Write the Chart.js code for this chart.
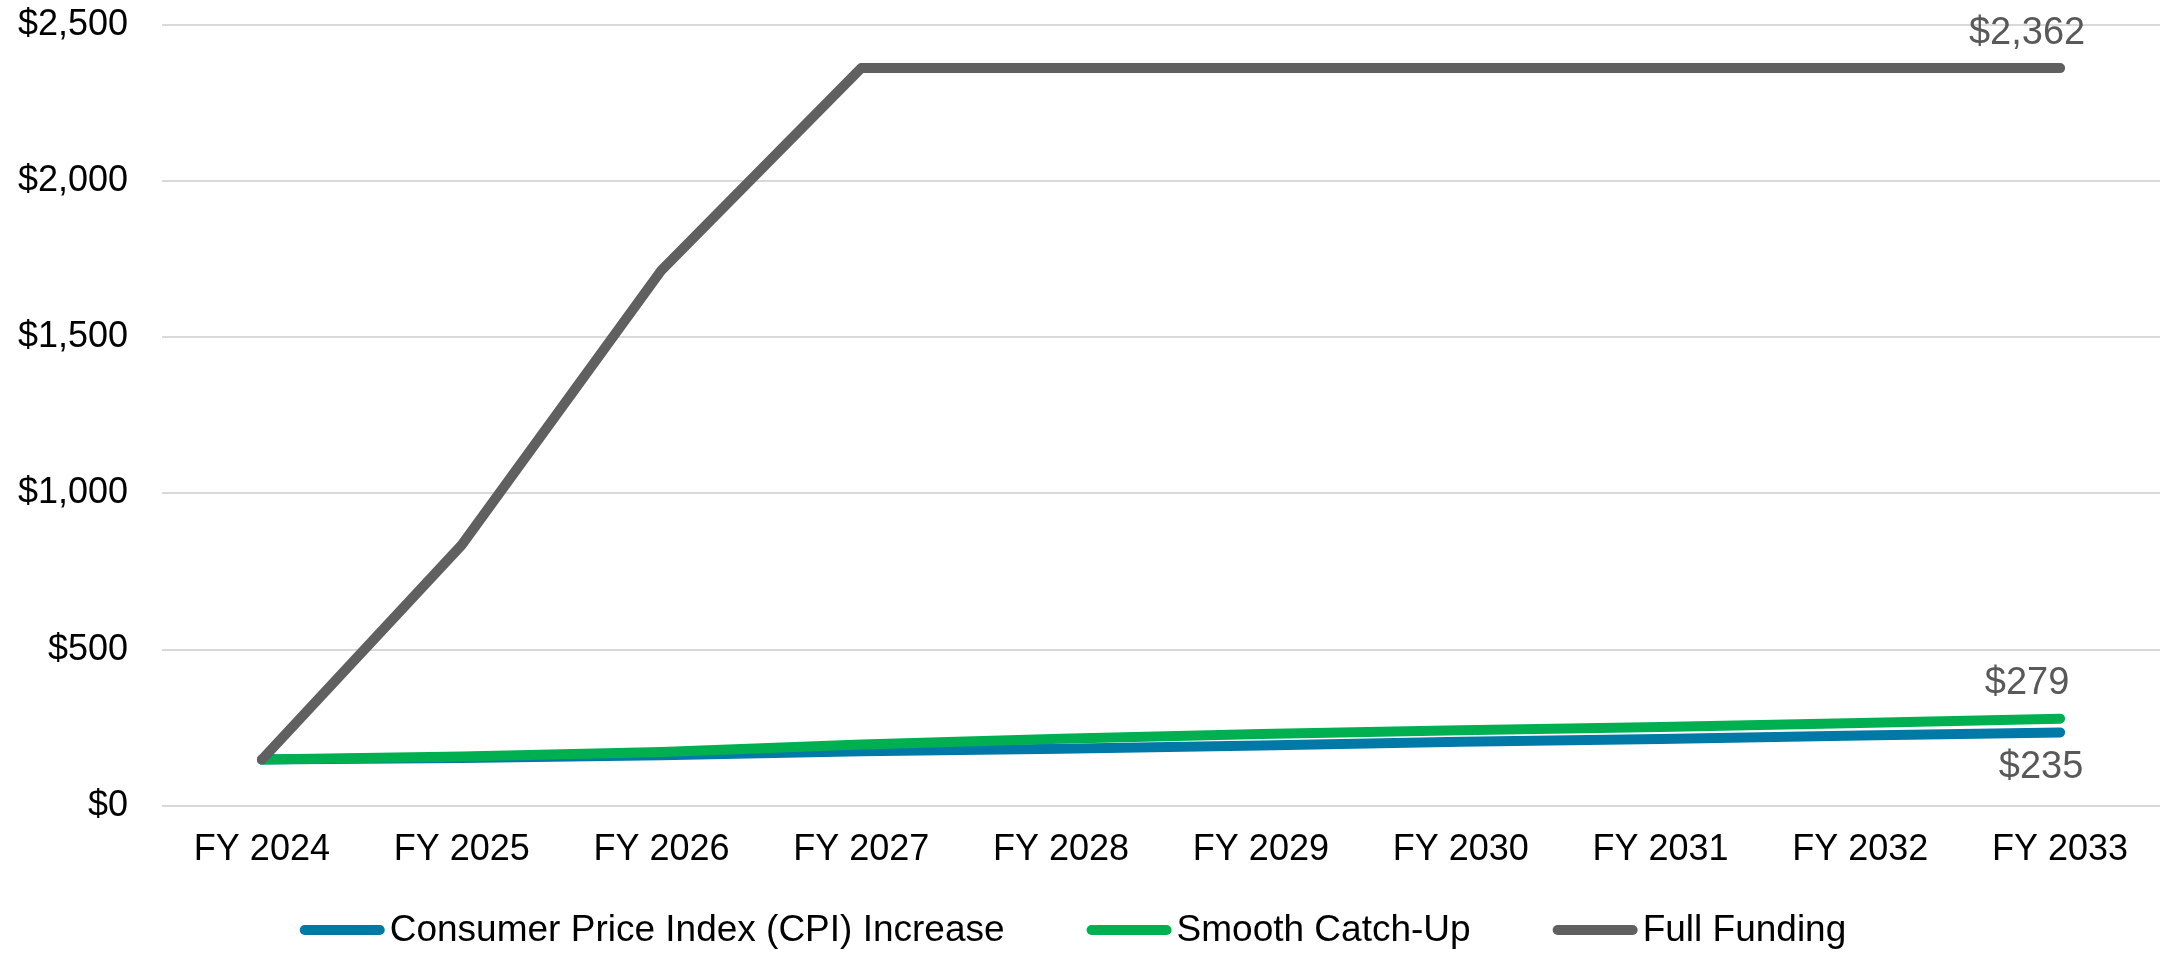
<!DOCTYPE html>
<html>
<head>
<meta charset="utf-8">
<script src="https://cdn.jsdelivr.net/npm/chart.js@4.4.1/dist/chart.umd.min.js"></script>
<style>
  html, body { margin: 0; padding: 0; background: #ffffff; }
  #wrap { width: 2160px; height: 953px; position: relative; }
</style>
</head>
<body>
<div id="wrap"><canvas id="c" width="2160" height="953"></canvas></div>
<script>
const categories = ["FY 2024", "FY 2025", "FY 2026", "FY 2027", "FY 2028", "FY 2029", "FY 2030", "FY 2031", "FY 2032", "FY 2033"];
const cpiIncrease = [148, 153, 162, 175, 183, 193, 205, 214, 225, 235];
const smoothCatchUp = [148, 158, 172, 196, 215, 230, 242, 252, 265, 279];
const fullFunding = [148, 835, 1715, 2362, 2362, 2362, 2362, 2362, 2362, 2362];
const yTicks = [0, 500, 1000, 1500, 2000, 2500];
const seriesNames = ["Consumer Price Index (CPI) Increase", "Smooth Catch-Up", "Full Funding"];

const FONT = "'Liberation Sans', Arial, sans-serif";

const endLabels = {
  id: 'endLabels',
  afterDatasetsDraw(chart) {
    const ctx = chart.ctx;
    const x = chart.scales.x, y = chart.scales.y;
    const last = categories.length - 1;
    const items = [
      { data: fullFunding, dx: -33, dy: -35 },
      { data: smoothCatchUp, dx: -33, dy: -35 },
      { data: cpiIncrease, dx: -19, dy: 35 }
    ];
    ctx.save();
    ctx.font = "38px " + FONT;
    ctx.fillStyle = "#595959";
    ctx.textAlign = "center";
    ctx.textBaseline = "middle";
    items.forEach(it => {
      const v = it.data[last];
      const px = x.getPixelForValue(last);
      const py = y.getPixelForValue(v);
      ctx.fillText("$" + v.toLocaleString("en-US"), px + it.dx, py + it.dy);
    });
    ctx.restore();
  }
};

// Legend drawn below the x axis, using dataset labels and colours
const bottomLegend = {
  id: 'bottomLegend',
  afterDraw(chart) {
    const ctx = chart.ctx;
    const ds = chart.data.datasets;
    const markerW = 85, markerH = 10, gapText = 5, gapItem = 82;
    const centerX = 1073, centerY = 930;
    ctx.save();
    ctx.font = "37px " + FONT;
    ctx.textBaseline = "middle";
    ctx.textAlign = "left";
    const widths = ds.map(d => ctx.measureText(d.label).width);
    let total = 0;
    widths.forEach((w, i) => { total += markerW + gapText + w + (i < widths.length - 1 ? gapItem : 0); });
    let cx = centerX - total / 2;
    ds.forEach((d, i) => {
      ctx.strokeStyle = d.borderColor;
      ctx.lineWidth = markerH;
      ctx.lineCap = 'round';
      ctx.beginPath();
      ctx.moveTo(cx + markerH / 2, centerY);
      ctx.lineTo(cx + markerW - markerH / 2, centerY);
      ctx.stroke();
      ctx.fillStyle = '#000000';
      ctx.fillText(d.label, cx + markerW + gapText, centerY + 1);
      cx += markerW + gapText + widths[i] + gapItem;
    });
    ctx.restore();
  }
};

new Chart(document.getElementById('c'), {
  type: 'line',
  data: {
    labels: categories,
    datasets: [
      { label: seriesNames[0], data: cpiIncrease, borderColor: '#0079A6', backgroundColor: '#0079A6', order: 3 },
      { label: seriesNames[1], data: smoothCatchUp, borderColor: '#00B050', backgroundColor: '#00B050', order: 2 },
      { label: seriesNames[2], data: fullFunding, borderColor: '#606060', backgroundColor: '#606060', order: 1 }
    ]
  },
  options: {
    responsive: false,
    animation: false,
    devicePixelRatio: 1,
    layout: { padding: { left: 18, right: 0, top: 4, bottom: 58 } },
    elements: {
      line: { borderWidth: 10, tension: 0, borderCapStyle: 'round', borderJoinStyle: 'round', fill: false },
      point: { radius: 0, hoverRadius: 0 }
    },
    scales: {
      x: {
        offset: true,
        grid: { display: false, drawTicks: false },
        border: { display: false },
        ticks: { color: '#000000', font: { family: FONT, size: 36 }, padding: 23, maxRotation: 0, autoSkip: false }
      },
      y: {
        min: 0, max: 2500,
        afterBuildTicks(scale) { scale.ticks = yTicks.map(v => ({ value: v })); },
        afterFit(scale) { scale.width = 144; scale.paddingTop = 25; scale.paddingBottom = 21; },
        grid: { color: '#D9D9D9', lineWidth: 2, drawTicks: false },
        border: { display: false },
        ticks: {
          color: '#000000', font: { family: FONT, size: 36 }, padding: 34,
          callback: v => "$" + Number(v).toLocaleString("en-US")
        }
      }
    },
    plugins: {
      legend: { display: false },
      tooltip: { enabled: false },
      title: { display: false }
    }
  },
  plugins: [endLabels, bottomLegend]
});
</script>
</body>
</html>
